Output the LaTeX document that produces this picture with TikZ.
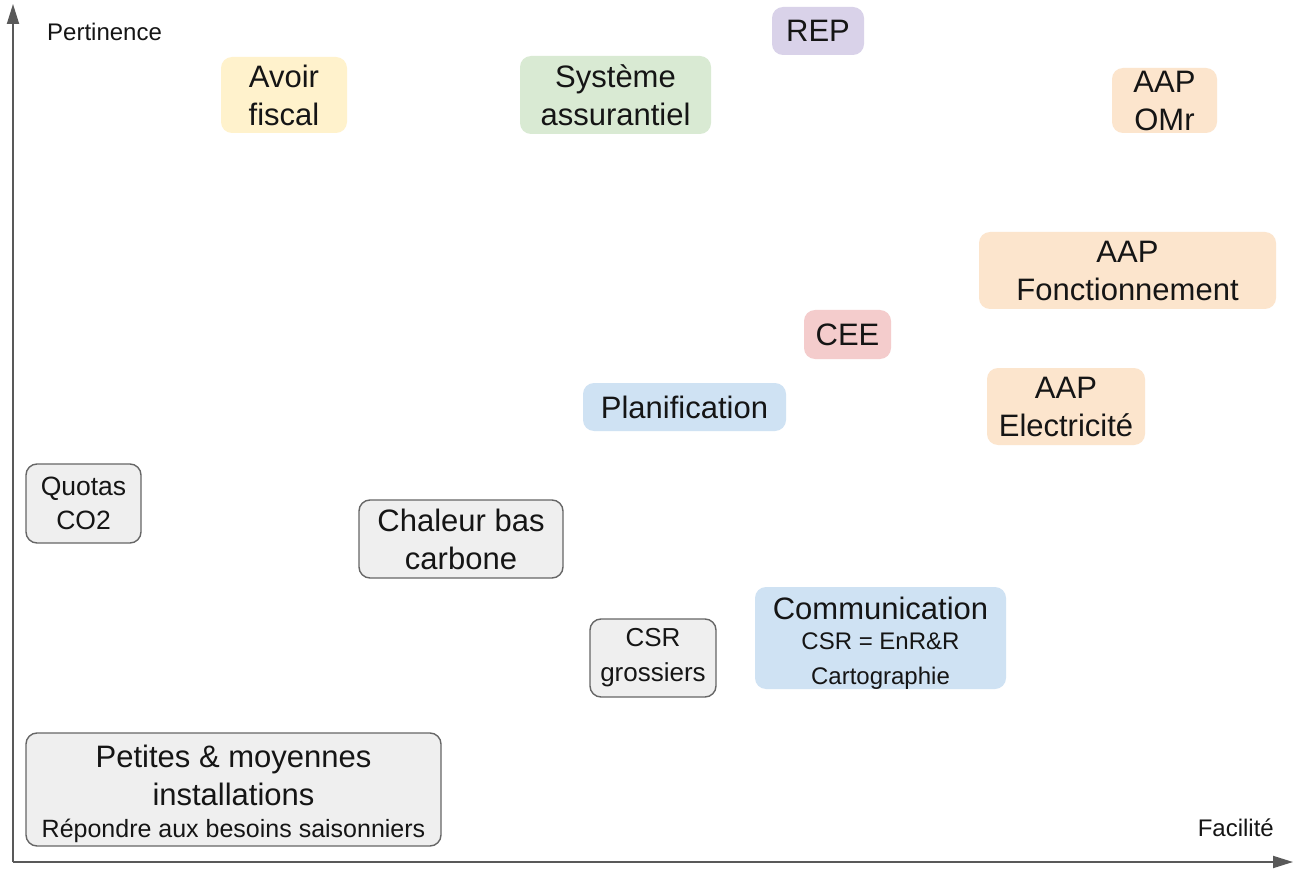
\documentclass[tikz,border=0pt]{standalone}
\usepackage{fontspec}
\setmainfont{Liberation Sans}
\usetikzlibrary{arrows.meta}
\definecolor{cyellow}{HTML}{FFF2CC}
\definecolor{cgreen}{HTML}{D9EAD3}
\definecolor{clav}{HTML}{D9D2E9}
\definecolor{cpeach}{HTML}{FCE5CD}
\definecolor{cred}{HTML}{F4CCCC}
\definecolor{cblue}{HTML}{CFE2F3}
\definecolor{cgray}{HTML}{EFEFEF}
\definecolor{cborder}{HTML}{666666}
\definecolor{caxis}{HTML}{595959}
\definecolor{ctext}{HTML}{151515}
\tikzset{
  box/.style={rounded corners=11pt, inner sep=0pt, align=center, text=ctext,
    font=\fontsize{31}{38}\selectfont},
  graybox/.style={box, fill=cgray, draw=cborder, line width=1.4pt},
  boxtext/.style={inner sep=0pt, align=center, text=ctext, font=\fontsize{31}{38}\selectfont},
  axisline/.style={draw=caxis, line width=1.8pt, -{Triangle[length=20pt,width=12pt]}},
  axislabel/.style={inner sep=0pt, text=ctext, font=\fontsize{24}{28}\selectfont}
}
\begin{document}
\begin{tikzpicture}[x=1pt,y=-1pt]
\useasboundingbox (0,0) rectangle (1294,869);
\fill[white] (0,0) rectangle (1294,869);

% axes
\coordinate (o) at (13,862);
\coordinate (ytop) at (13,4);
\coordinate (xend) at (1293,862);
\draw[axisline] (o) -- (ytop);
\draw[axisline] (o) -- (xend);
\node[axislabel, anchor=west] (pert) at (47,32) {Pertinence};
\node[axislabel, anchor=east] (fac) at (1274,828) {Facilité};

% boxes
\node[box, fill=clav, minimum width=92pt, minimum height=48pt] (rep) at (818,31) {REP};
\node[box, fill=cyellow, minimum width=126pt, minimum height=76pt] (avoir) at (284,95) {Avoir\\fiscal};
\node[box, fill=cgreen, minimum width=191pt, minimum height=78pt] (assur) at (615.5,95) {Système\\assurantiel};
\node[box, fill=cpeach, minimum width=105pt, minimum height=65pt] (omr) at (1164.5,100.5) {AAP\\OMr};
\node[box, fill=cpeach, minimum width=297pt, minimum height=77pt] (fonct) at (1127.5,270.5) {AAP\\Fonctionnement};
\node[box, fill=cred, minimum width=87pt, minimum height=49pt] (cee) at (847.5,334.5) {CEE};
\node[box, fill=cblue, minimum width=203pt, minimum height=48pt] (plan) at (684.5,407) {Planification};
\node[box, fill=cpeach, minimum width=158pt, minimum height=77pt] (elec) at (1066,406.5) {AAP\\Electricité};

\node[graybox, minimum width=115pt, minimum height=79pt, font=\fontsize{26.5}{34}\selectfont] (quotas) at (83.5,503.5) {Quotas\\CO2};
\node[graybox, minimum width=204pt, minimum height=78pt] (chaleur) at (461,539) {Chaleur bas\\carbone};
\node[graybox, minimum width=126pt, minimum height=78pt, font=\fontsize{26}{35}\selectfont] (csr) at (653,658) {CSR\\grossiers};

\node[box, fill=cblue, minimum width=251pt, minimum height=102pt] (comm) at (880.5,638) {};
\node[boxtext] (commtxt) at (880.5,643)
  {Communication\\[-8pt]{\fontsize{24}{32}\selectfont CSR = EnR\&R}\\[-3pt]{\fontsize{24}{32}\selectfont Cartographie}};

\node[graybox, minimum width=415pt, minimum height=113pt] (petites) at (233.5,789.5) {};
\node[boxtext] (petitestxt) at (233.5,794)
  {Petites \& moyennes\\installations\\[-6pt]{\fontsize{25}{30}\selectfont Répondre aux besoins saisonniers}};
\end{tikzpicture}
\end{document}
